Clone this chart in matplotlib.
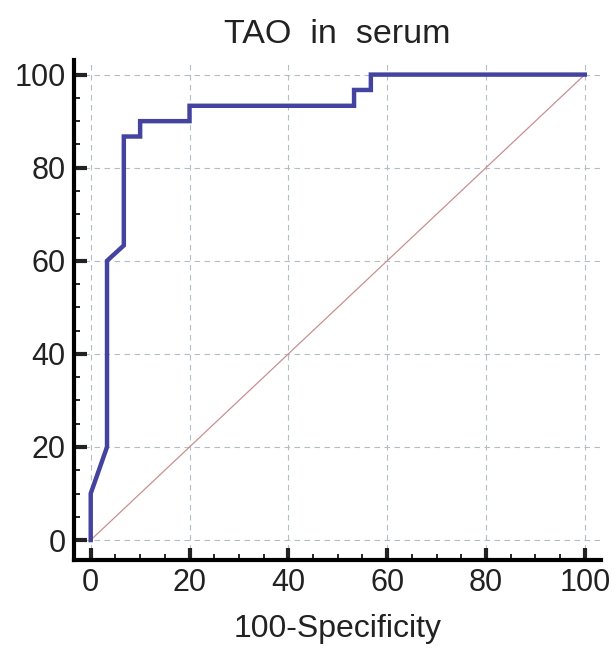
import matplotlib
matplotlib.use('Agg')
import matplotlib.pyplot as plt
from matplotlib.ticker import MultipleLocator

# ROC curve (100-Specificity, Sensitivity)
fpr = [0, 0, 3.3, 3.3, 6.7, 6.7, 10, 10, 20, 20, 53.3, 53.3, 56.7, 56.7, 100]
tpr = [0, 10, 20, 60, 63.3, 86.7, 86.7, 90, 90, 93.3, 93.3, 96.7, 96.7, 100, 100]
diag = [0, 100]
ticks = [0, 20, 40, 60, 80, 100]

plt.rcParams['font.family'] = ['Liberation Sans', 'DejaVu Sans']

fig = plt.figure(figsize=(6.16, 6.49), dpi=100)
ax = fig.add_axes([0.120, 0.137, 0.855, 0.771])

ax.plot(diag, diag, color='#c89090', lw=0.9, zorder=2)
ax.plot(fpr, tpr, color='#4444a0', lw=3.2, solid_joinstyle='miter', zorder=3)

ax.set_xlim(-3.4, 103.2)
ax.set_ylim(-4.3, 103.2)
ax.set_xticks(ticks)
ax.set_yticks(ticks)
ax.xaxis.set_minor_locator(MultipleLocator(5))
ax.yaxis.set_minor_locator(MultipleLocator(5))
ax.grid(True, which='major', ls=(0, (5, 4)), color='#b4bcc4', lw=0.8)

for side in ['top', 'right']:
    ax.spines[side].set_visible(False)
for side in ['left', 'bottom']:
    ax.spines[side].set_linewidth(3)

ax.tick_params(which='major', direction='in', length=9, width=3, labelsize=22, pad=6, colors='#222222')
ax.tick_params(which='minor', direction='in', length=4, width=1.2)

ax.set_title('TAO  in  serum', fontsize=24.5, pad=12, color='#222222')
ax.set_xlabel('100-Specificity', fontsize=23, labelpad=11, color='#222222')

fig.savefig('out.png', dpi=100)
